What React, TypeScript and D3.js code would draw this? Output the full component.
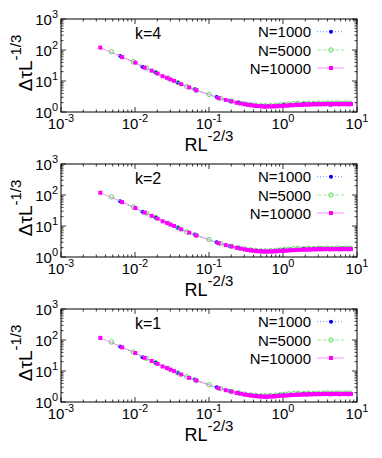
import React from "react";
import * as d3 from "d3";

// panel titles, legend entries, tick exponents
const panelTitles = ["k=4", "k=2", "k=1"];
const seriesNames = ["N=1000", "N=5000", "N=10000"];
const xTickExponents = ["-3", "-2", "-1", "0", "1"];
const yTickExponents = ["0", "1", "2", "3"];

// R L^-2/3 for each system size (same in all panels)
const xN1000 = [0.0063, 0.0126, 0.019, 0.038, 0.064, 0.127, 0.19, 0.25, 0.32, 0.38, 0.44, 0.51, 0.57, 0.63, 0.76, 0.89, 1.01, 1.27, 1.52, 1.9, 2.28, 2.66, 3.16, 3.8, 4.43, 5.06, 5.7, 6.33, 7.0, 7.6, 8.2];
const xN5000 = [0.0048, 0.0095, 0.0143, 0.019, 0.0286, 0.038, 0.05, 0.067, 0.1, 0.143, 0.2, 0.25, 0.3, 0.36, 0.43, 0.5, 0.58, 0.68, 0.8, 0.92, 1.05, 1.2, 1.4, 1.6, 1.9, 2.2, 2.6, 3.0, 3.5, 4.0, 4.6, 5.3, 6.0, 7.0, 8.0];
const xN10000 = [0.0034, 0.0067, 0.0101, 0.0135, 0.0168, 0.0202, 0.0236, 0.027, 0.0303, 0.0337, 0.0421, 0.0539, 0.0674, 0.135, 0.168, 0.202, 0.236, 0.27, 0.303, 0.337, 0.37, 0.404, 0.44, 0.48, 0.52, 0.56, 0.6, 0.65, 0.7, 0.75, 0.8, 0.86, 0.92, 1.0, 1.08, 1.16, 1.25, 1.35, 1.45, 1.56, 1.68, 1.8, 1.94, 2.08, 2.24, 2.4, 2.6, 2.8, 3.0, 3.2, 3.45, 3.7, 4.0, 4.3, 4.6, 5.0, 5.4, 5.8, 6.2, 6.7, 7.2, 7.7, 8.3];

// Delta tau L^-1/3, k=4
const yK4N1000 = [64, 29, 19.2, 8.8, 5.4, 3.05, 2.3, 1.98, 1.78, 1.68, 1.6, 1.52, 1.5, 1.55, 1.58, 1.62, 1.72, 1.7, 1.78, 1.8, 1.76, 1.84, 1.8, 1.86, 1.72, 1.84, 1.82, 1.88, 1.8, 1.86, 1.84];
const yK4N5000 = [88, 42, 26, 19, 12, 8.9, 6.6, 5.1, 3.7, 2.75, 2.25, 2.0, 1.85, 1.72, 1.65, 1.6, 1.58, 1.6, 1.64, 1.7, 1.75, 1.8, 1.86, 1.9, 1.88, 1.92, 1.9, 1.94, 1.9, 1.95, 1.92, 1.96, 1.92, 1.95, 1.93];
const yK4N10000 = [119, 59, 39, 27, 21.5, 17.4, 14.3, 12.7, 11.2, 10.1, 7.9, 6.2, 5.0, 2.8, 2.45, 2.2, 2.0, 1.88, 1.78, 1.7, 1.66, 1.6, 1.56, 1.55, 1.52, 1.5, 1.5, 1.52, 1.5, 1.54, 1.52, 1.56, 1.55, 1.6, 1.62, 1.6, 1.66, 1.64, 1.7, 1.68, 1.72, 1.7, 1.75, 1.72, 1.78, 1.74, 1.8, 1.76, 1.82, 1.76, 1.8, 1.78, 1.84, 1.76, 1.82, 1.78, 1.84, 1.76, 1.82, 1.78, 1.84, 1.76, 1.8];

// k=2
const yK2N1000 = [63, 29, 19, 8.7, 5.3, 3.0, 2.28, 1.95, 1.76, 1.66, 1.58, 1.54, 1.52, 1.53, 1.6, 1.64, 1.68, 1.74, 1.76, 1.82, 1.78, 1.86, 1.92, 1.84, 1.8, 1.86, 1.84, 1.9, 1.82, 1.86, 1.88];
const yK2N5000 = [87, 41, 26, 18.8, 12, 8.8, 6.5, 5.0, 3.65, 2.72, 2.22, 1.98, 1.82, 1.7, 1.63, 1.58, 1.57, 1.6, 1.64, 1.68, 1.74, 1.78, 1.84, 1.88, 1.86, 1.9, 1.88, 1.92, 1.9, 1.94, 1.9, 1.95, 1.92, 1.94, 1.93];
const yK2N10000 = [118, 59, 38, 27, 21.3, 17.2, 14.2, 12.6, 11.1, 10, 7.8, 6.1, 4.95, 2.78, 2.42, 2.18, 1.98, 1.86, 1.76, 1.68, 1.63, 1.58, 1.55, 1.53, 1.51, 1.5, 1.49, 1.52, 1.5, 1.53, 1.52, 1.55, 1.56, 1.6, 1.6, 1.62, 1.64, 1.66, 1.68, 1.7, 1.7, 1.72, 1.74, 1.72, 1.76, 1.74, 1.78, 1.76, 1.8, 1.76, 1.8, 1.78, 1.82, 1.76, 1.8, 1.78, 1.82, 1.76, 1.8, 1.78, 1.82, 1.77, 1.8];

// k=1
const yK1N1000 = [62, 28, 18.8, 8.6, 5.3, 3.0, 2.26, 1.94, 1.74, 1.64, 1.56, 1.52, 1.5, 1.55, 1.6, 1.66, 1.7, 1.74, 1.78, 1.8, 1.82, 1.84, 1.82, 1.86, 1.78, 1.84, 1.82, 1.86, 1.8, 1.84, 1.86];
const yK1N5000 = [86, 41, 25.5, 18.6, 11.8, 8.7, 6.5, 5.0, 3.6, 2.7, 2.2, 1.96, 1.8, 1.68, 1.62, 1.58, 1.58, 1.62, 1.66, 1.72, 1.78, 1.82, 1.86, 1.9, 1.88, 1.92, 1.9, 1.94, 1.92, 1.95, 1.92, 1.96, 1.92, 1.95, 1.94];
const yK1N10000 = [117, 58, 38, 26.5, 21, 17, 14, 12.5, 11, 9.9, 7.7, 6.0, 4.9, 2.75, 2.4, 2.15, 1.96, 1.84, 1.74, 1.67, 1.62, 1.58, 1.54, 1.52, 1.5, 1.48, 1.47, 1.5, 1.5, 1.52, 1.54, 1.56, 1.58, 1.62, 1.62, 1.64, 1.66, 1.68, 1.7, 1.72, 1.72, 1.74, 1.76, 1.74, 1.78, 1.76, 1.8, 1.78, 1.82, 1.78, 1.82, 1.8, 1.84, 1.78, 1.82, 1.8, 1.84, 1.78, 1.82, 1.8, 1.84, 1.78, 1.82];

const panelData = [
  [yK4N1000, yK4N5000, yK4N10000],
  [yK2N1000, yK2N5000, yK2N10000],
  [yK1N1000, yK1N5000, yK1N10000],
];
const xSeries = [xN1000, xN5000, xN10000];

const width = 382;
const height = 458;
const left = 61;
const right = 357;
const panelTops = [19, 164, 309];
const panelH = 93;
const font = "'Liberation Sans', Arial, Helvetica, sans-serif";

const colors = ["#0000ff", "#55dd55", "#ff00ff"];
const lineColors = ["#5555ff", "#77e077", "#ff66ff"];
const dashes = ["1,2", "4,2", null];

const Marker = ({ i, x, y }) => {
  if (i === 0) return <circle cx={x} cy={y} r={2} fill={colors[0]} />;
  if (i === 1)
    return <circle cx={x} cy={y} r={2.2} fill="none" stroke={colors[1]} strokeWidth={1} />;
  return <rect x={x - 2} y={y - 2} width={4} height={4} fill={colors[2]} />;
};

const Panel = ({ top, title, ys }) => {
  const xScale = d3.scaleLog().domain([1e-3, 10]).range([left, right]);
  const yScale = d3.scaleLog().domain([1, 1000]).range([top + panelH, top]);
  const bottom = top + panelH;
  const xTicks = xScale.ticks();
  const yTicks = yScale.ticks();
  const isMajor = (v) => Math.abs(Math.log10(v) - Math.round(Math.log10(v))) < 1e-6;
  const xMajor = xTicks.filter(isMajor);
  const yMajor = yTicks.filter(isMajor);

  const lineGen = d3
    .line()
    .x((d) => xScale(d[0]))
    .y((d) => yScale(d[1]));

  return (
    <g>
      {/* ticks, inward, mirrored */}
      {xTicks.map((v, i) => {
        const len = isMajor(v) ? 5 : 2.5;
        const x = xScale(v);
        return (
          <g key={"xt" + i} stroke="#000" strokeWidth={0.8}>
            <line x1={x} x2={x} y1={bottom} y2={bottom - len} />
            <line x1={x} x2={x} y1={top} y2={top + len} />
          </g>
        );
      })}
      {yTicks.map((v, i) => {
        const len = isMajor(v) ? 5 : 2.5;
        const y = yScale(v);
        return (
          <g key={"yt" + i} stroke="#000" strokeWidth={0.8}>
            <line x1={left} x2={left + len} y1={y} y2={y} />
            <line x1={right} x2={right - len} y1={y} y2={y} />
          </g>
        );
      })}

      {/* series */}
      {ys.map((yv, si) => {
        const pts = xSeries[si].map((x, j) => [x, yv[j]]);
        return (
          <g key={"s" + si}>
            <path
              d={lineGen(pts)}
              fill="none"
              stroke={lineColors[si]}
              strokeWidth={0.7}
              strokeDasharray={dashes[si] || undefined}
            />
            {pts.map((p, j) => (
              <Marker key={j} i={si} x={xScale(p[0])} y={yScale(p[1])} />
            ))}
          </g>
        );
      })}

      <rect x={left} y={top} width={right - left} height={panelH} fill="none" stroke="#000" strokeWidth={1} />

      {/* tick labels */}
      {xMajor.map((v, i) => (
        <text key={"xl" + i} x={xScale(v)} y={bottom + 17} textAnchor="middle" fontSize={15}>
          10<tspan fontSize={11} dy={-7}>{xTickExponents[i]}</tspan>
        </text>
      ))}
      {yMajor.map((v, i) => (
        <text key={"yl" + i} x={58} y={yScale(v) + 6} textAnchor="end" fontSize={15}>
          10<tspan fontSize={11} dy={-7}>{yTickExponents[i]}</tspan>
        </text>
      ))}

      {/* axis labels */}
      <text x={(left + right) / 2} y={bottom + 39} textAnchor="middle" fontSize={18}>
        RL<tspan fontSize={15} dy={-10}>-2/3</tspan>
      </text>
      <text transform={`translate(32,${top + 44}) rotate(-90)`} textAnchor="middle" fontSize={19}>
        ΔτL<tspan fontSize={15} dy={-11}>-1/3</tspan>
      </text>

      <text x={135} y={top + 19.5} fontSize={16}>
        {title}
      </text>

      {/* legend */}
      {seriesNames.map((name, si) => {
        const cy = top + [12.7, 31, 49][si];
        return (
          <g key={"lg" + si}>
            <text x={311} y={cy + 5.5} textAnchor="end" fontSize={15}>
              {name}
            </text>
            <line
              x1={317}
              x2={344}
              y1={cy}
              y2={cy}
              stroke={lineColors[si]}
              strokeWidth={0.7}
              strokeDasharray={dashes[si] || undefined}
            />
            <Marker i={si} x={331} y={cy} />
          </g>
        );
      })}
    </g>
  );
}

export default function App() {
  return (
    <svg
      width={width}
      height={height}
      style={{ position: "absolute", left: 0, top: 0, background: "#fff" }}
      fontFamily={font}
    >
      <rect width={width} height={height} fill="#fff" />
      {panelTops.map((t, i) => (
        <Panel key={i} top={t} title={panelTitles[i]} ys={panelData[i]} />
      ))}
    </svg>
  );
}
